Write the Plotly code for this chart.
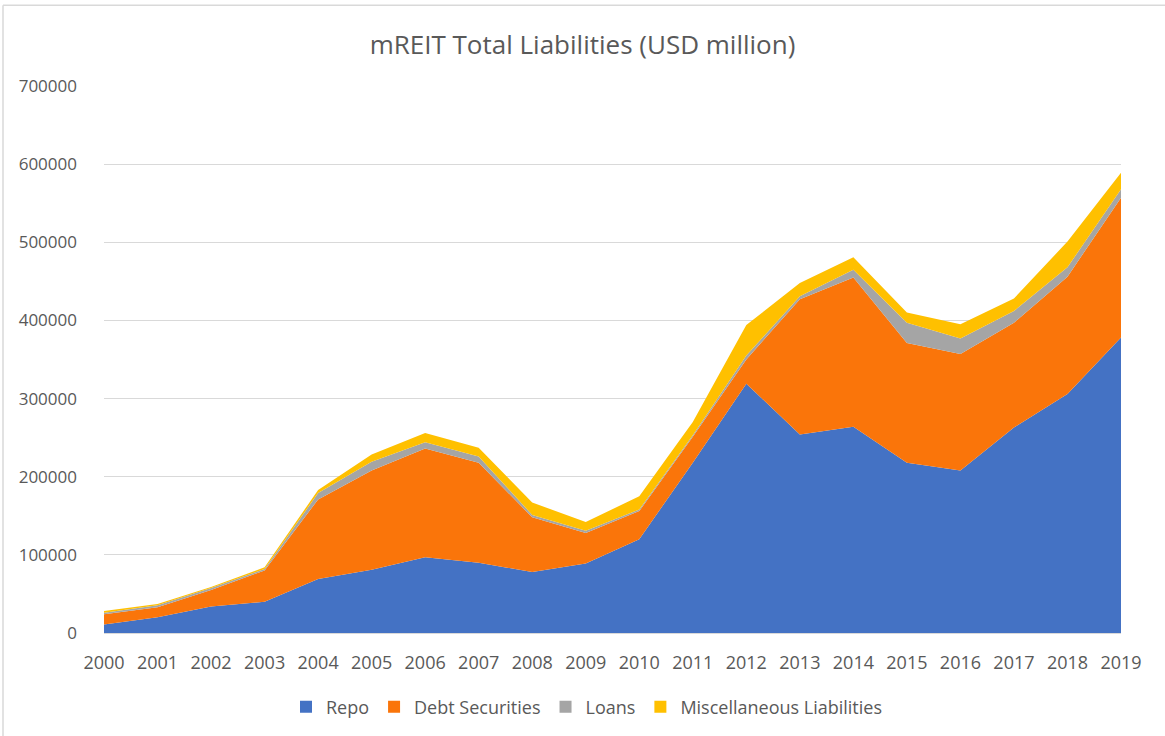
import plotly.graph_objects as go

years = [str(y) for y in range(2000, 2020)]
repo = [11000, 20000, 34000, 40000, 69000, 81000, 97000, 90000, 78000, 89000,
        120000, 218000, 319000, 254000, 264000, 218000, 208000, 263000, 306000, 378000]
debt_securities = [13000, 13000, 21000, 40000, 102000, 127000, 139000, 128000, 70000, 39000,
                   36000, 33000, 31000, 173000, 191000, 153000, 149000, 134000, 150000, 179000]
loans = [2000, 2500, 2500, 2000, 8000, 11000, 8000, 8000, 3000, 3000,
         2000, 2000, 5000, 4000, 10000, 26000, 20000, 15000, 12000, 11000]
misc = [2000, 1500, 1500, 2000, 4000, 9500, 12000, 11000, 16000, 11000,
        17000, 17000, 39000, 17000, 16000, 13000, 18000, 16000, 33000, 21000]

series = [
    ("Repo", repo, "#4472C4"),
    ("Debt Securities", debt_securities, "#FA750A"),
    ("Loans", loans, "#A5A5A5"),
    ("Miscellaneous Liabilities", misc, "#FFC000"),
]

fig = go.Figure()
for name, vals, col in series:
    fig.add_trace(go.Scatter(
        x=years, y=vals, name=name, mode="lines", stackgroup="one",
        line=dict(width=0, color=col), fillcolor=col, showlegend=False,
    ))
# legend entries with small square swatches
for name, vals, col in series:
    fig.add_trace(go.Scatter(
        x=[None], y=[None], name=name, mode="markers",
        marker=dict(symbol="square", size=12, color=col),
    ))

W, H = 1165, 736
ml, mr, mt, mb = 104, 44, 86, 102
pw, ph = W - ml - mr, H - mt - mb

def px2paper_x(px):
    return (px - ml) / pw

def px2paper_y(py):
    return (H - mb - py) / ph

fig.update_layout(
    width=W, height=H,
    margin=dict(l=ml, r=mr, t=mt, b=mb),
    paper_bgcolor="white", plot_bgcolor="white",
    font=dict(family="Open Sans, sans-serif", color="#595959"),
    title=dict(text="mREIT Total Liabilities (USD million)", x=0.5, xanchor="center",
               y=1 - 45 / H, yanchor="middle",
               font=dict(size=26, color="#595959", family="Open Sans, sans-serif")),
    xaxis=dict(type="category", range=[0, 19], showgrid=False, zeroline=False,
               showline=False, ticks="", ticklabelstandoff=17,
               tickfont=dict(size=18, color="#595959"), fixedrange=True),
    yaxis=dict(range=[0, 700000], dtick=100000, tickformat="d", showgrid=True,
               gridcolor="#D9D9D9", gridwidth=1.3, zeroline=True, zerolinecolor="#D9D9D9",
               showline=False, ticks="", ticklabelstandoff=26,
               tickfont=dict(size=17, color="#595959"), fixedrange=True),
    legend=dict(orientation="h", x=px2paper_x(587), xanchor="center", y=px2paper_y(707),
                yanchor="middle", font=dict(size=18, color="#595959"), traceorder="normal",
                itemwidth=30, itemsizing="constant"),
    showlegend=True,
    shapes=[
        dict(type="line", xref="paper", yref="paper",
             x0=px2paper_x(3), x1=px2paper_x(1170), y0=px2paper_y(5), y1=px2paper_y(5),
             line=dict(color="#D9D9D9", width=1.5)),
        dict(type="line", xref="paper", yref="paper",
             x0=px2paper_x(3), x1=px2paper_x(3), y0=px2paper_y(5), y1=px2paper_y(740),
             line=dict(color="#D9D9D9", width=1.5)),
    ],
)

fig.write_html("out.html", config={"displayModeBar": False},
               post_script="document.body.style.margin='0';")
